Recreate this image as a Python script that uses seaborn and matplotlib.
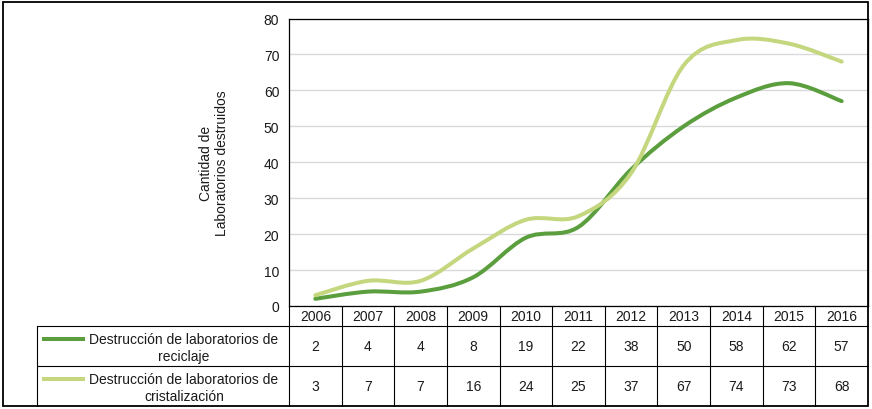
import numpy as np
import pandas as pd
import matplotlib
matplotlib.use("Agg")
import matplotlib.pyplot as plt
import seaborn as sns
from matplotlib.path import Path
from matplotlib.patches import PathPatch, Rectangle
from matplotlib.lines import Line2D

# ---------------- data ----------------
years = ["2006", "2007", "2008", "2009", "2010", "2011", "2012", "2013", "2014", "2015", "2016"]
reciclaje = [2, 4, 4, 8, 19, 22, 38, 50, 58, 62, 57]
cristalizacion = [3, 7, 7, 16, 24, 25, 37, 67, 74, 73, 68]
series_labels = ["Destrucción de laboratorios de\nreciclaje",
                 "Destrucción de laboratorios de\ncristalización"]
series_colors = ["#5b9e3d", "#c4d77f"]
y_ticks = [0, 10, 20, 30, 40, 50, 60, 70, 80]
y_label = "Cantidad de\nLaboratorios destruidos"

# ---------------- style ----------------
sns.set_theme(style="white")
plt.rcParams["font.family"] = ["Liberation Sans", "DejaVu Sans"]
TXT = "#1a1a1a"
FS = 10

W, H = 872, 410
fig = plt.figure(figsize=(W / 100, H / 100), dpi=100)
fig.patch.set_facecolor("white")

# plot area in pixels
L, R, T, B = 289, 868, 19.5, 307
ax = fig.add_axes([L / W, 1 - B / H, (R - L) / W, (B - T) / H])

n = len(years)
df = pd.DataFrame({"idx": np.arange(n),
                   series_labels[0]: reciclaje,
                   series_labels[1]: cristalizacion})
long = df.melt(id_vars="idx", var_name="serie", value_name="valor")
sns.lineplot(data=long, x="idx", y="valor", hue="serie",
             hue_order=series_labels, palette=series_colors,
             linewidth=2.9, ax=ax, legend=False, sort=False)

# replace straight polylines by smooth (Excel-like) Bezier curves through the same points
for k, line in enumerate(list(ax.get_lines())):
    pts = np.asarray(line.get_xydata(), dtype=float)
    col = line.get_color()
    lw = line.get_linewidth()
    ext = np.vstack([pts[0], pts, pts[-1]])
    verts = [tuple(pts[0])]
    codes = [Path.MOVETO]
    for i in range(len(pts) - 1):
        p0, p1, p2, p3 = ext[i], ext[i + 1], ext[i + 2], ext[i + 3]
        c1 = p1 + (p2 - p0) / 6.0
        c2 = p2 - (p3 - p1) / 6.0
        verts += [tuple(c1), tuple(c2), tuple(p2)]
        codes += [Path.CURVE4] * 3
    patch = PathPatch(Path(verts, codes), fill=False, edgecolor=col, lw=lw,
                      capstyle="round", joinstyle="round", zorder=3 + k)
    ax.add_patch(patch)
    line.remove()

ax.set_xlim(-0.5, n - 0.5)
ax.set_ylim(0, 80)
ax.set_xticks([])
ax.set_xlabel("")
ax.set_yticks(y_ticks)
ax.set_yticklabels([str(v) for v in y_ticks], fontsize=FS, color=TXT)
ax.tick_params(axis="y", length=0, pad=7)
ax.yaxis.grid(True, color="#d9d9d9", lw=1.0)
ax.set_axisbelow(True)
for s in ax.spines.values():
    s.set_visible(True)
    s.set_color("#000000")
    s.set_linewidth(0.9)
ax.set_ylabel(y_label, fontsize=FS, color=TXT, linespacing=1.15)
ax.yaxis.set_label_coords((229 - L) / (R - L), 0.5)

# ---------------- data table & frame (pixel overlay) ----------------
ov = fig.add_axes([0, 0, 1, 1], zorder=5)
ov.set_xlim(0, W)
ov.set_ylim(H, 0)
ov.axis("off")
ov.patch.set_alpha(0)

col_w = (R - L) / n
row_top = [B, 327, 367]
row_bot = [327, 367, 407]
tab_left = 37
lc = "#000000"
ilw = 0.8

def hline(y, x0, x1, lw=ilw):
    ov.add_line(Line2D([x0, x1], [y, y], color=lc, lw=lw))

def vline(x, y0, y1, lw=ilw):
    ov.add_line(Line2D([x, x], [y0, y1], color=lc, lw=lw))

hline(327, tab_left, R)
hline(367, tab_left, R)
vline(tab_left, 327, 407)
for k in range(0, n):
    vline(L + k * col_w, B, 407)

# year header
for i, yr in enumerate(years):
    ov.text(L + (i + 0.5) * col_w, (row_top[0] + row_bot[0]) / 2 + 0.5, yr,
            ha="center", va="center", fontsize=FS, color=TXT)

# rows
for r, (vals, lab, colr) in enumerate(zip([reciclaje, cristalizacion], series_labels, series_colors)):
    y0, y1 = row_top[r + 1], row_bot[r + 1]
    yc = (y0 + y1) / 2
    for i, v in enumerate(vals):
        ov.text(L + (i + 0.5) * col_w, yc + 0.5, str(v),
                ha="center", va="center", fontsize=FS, color=TXT)
    ov.add_line(Line2D([42, 85], [y0 + 12.5, y0 + 12.5], color=colr, lw=2.9,
                       solid_capstyle="butt"))
    ov.text(184, yc + 1.5, lab, ha="center", va="center", fontsize=FS,
            color=TXT, multialignment="center", linespacing=1.2)

# outer frame
ov.add_patch(Rectangle((3, 3), R - 3, 407 - 3, fill=False, edgecolor=lc, lw=1.3))

fig.savefig("out.png", dpi=100, facecolor="white")
